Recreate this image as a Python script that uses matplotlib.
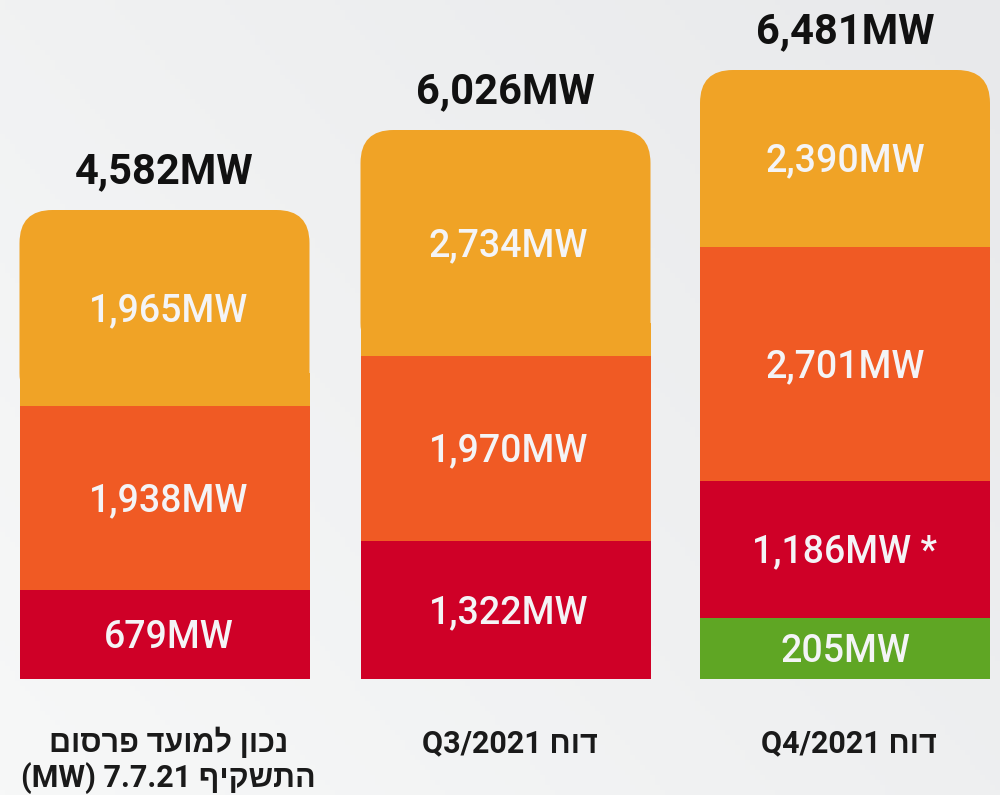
import matplotlib.pyplot as plt
import numpy as np
from matplotlib.patches import FancyBboxPatch

# data (segments listed bottom -> top)
categories = ["נכון למועד פרסום\nהתשקיף 7.7.21 (MW)", "דוח Q3/2021", "דוח Q4/2021"]
totals = [4582, 6026, 6481]
seg_values = [
    [679, 1938, 1965],
    [1322, 1970, 2734],
    [205, 1186, 2701, 2390],
]
seg_notes = [
    ["", "", ""],
    ["", "", ""],
    ["", " *", "", ""],
]
# the chart is not drawn to scale, so the drawn heights are read off the picture
seg_heights = [
    [89, 184, 196],
    [138, 185, 226],
    [61, 137, 234, 177],
]

# style
GREEN = "#5FA624"
RED = "#CF0027"
ORANGE_RED = "#F05A24"
ORANGE = "#F0A326"
seg_colors = [
    [RED, ORANGE_RED, ORANGE],
    [RED, ORANGE_RED, ORANGE],
    [GREEN, RED, ORANGE_RED, ORANGE],
]
x_pos = np.array([164.5, 505.5, 845.0])
label_dx = [4, 3, 0]
bar_w = 290
base = 116
radius = 33

NUM_FONT = ["Roboto", "DejaVu Sans"]
HEB_FONT = ["Roboto", "Liberation Sans", "DejaVu Sans"]


def visual(s):
    # matplotlib has no bidi support: put the words in right-to-left order
    # and flip the Hebrew words so they read correctly
    out = []
    for word in reversed(s.split(" ")):
        if any("\u0590" <= ch <= "\u05ff" for ch in word):
            word = word[::-1]
        out.append(word)
    return " ".join(out)


fig = plt.figure(figsize=(10, 7.95), dpi=100)
ax = fig.add_axes([0, 0, 1, 1])
ax.set_xlim(0, 1000)
ax.set_ylim(0, 795)
ax.axis("off")

# soft grey background gradient
gx, gy = np.meshgrid(np.linspace(0, 1, 200), np.linspace(0, 1, 160))
t = np.clip(0.6 * gx + 0.4 * (1 - gy), 0, 1)[..., None]
c0 = np.array([247, 248, 248]) / 255
c1 = np.array([232, 233, 235]) / 255
ax.imshow(c0 * (1 - t) + c1 * t, extent=[0, 1000, 0, 795], origin="upper",
          aspect="auto", zorder=0)

for i, (heights, vals) in enumerate(zip(seg_heights, seg_values)):
    bottoms = base + np.concatenate([[0], np.cumsum(heights)[:-1]])
    for j, (h, b) in enumerate(zip(heights, bottoms)):
        rect = ax.bar(x_pos[i], h, bar_w, bottom=b, color=seg_colors[i][j],
                      linewidth=0, zorder=2)[0]
        if j == len(heights) - 1:
            # rounded top corners, square bottom
            rect.set_height(radius)
            ax.add_patch(FancyBboxPatch(
                (x_pos[i] - bar_w / 2, b), bar_w, h,
                boxstyle=f"round,pad=0,rounding_size={radius}",
                facecolor=seg_colors[i][j], linewidth=0, zorder=2))
        ax.text(x_pos[i] + label_dx[i], b + h / 2 - 13,
                f"{vals[j]:,}MW{seg_notes[i][j]}",
                ha="center", va="baseline", fontsize=27, fontweight="medium",
                color="#F4F4F6", family=NUM_FONT, zorder=3)
    top = base + sum(heights)
    ax.text(x_pos[i], top + 42 - 15, f"{totals[i]:,}MW", ha="center",
            va="baseline", fontsize=30, fontweight="bold", color="#111111",
            family=NUM_FONT, zorder=3)
    for k, line in enumerate(categories[i].split("\n")):
        ax.text(x_pos[i] + 4, 795 - 742 - 35 * k - 10, visual(line),
                ha="center", va="baseline", fontsize=22, fontweight="bold",
                color="#1A1A1A", family=HEB_FONT, zorder=3)

fig.savefig("out.png", dpi=100)
